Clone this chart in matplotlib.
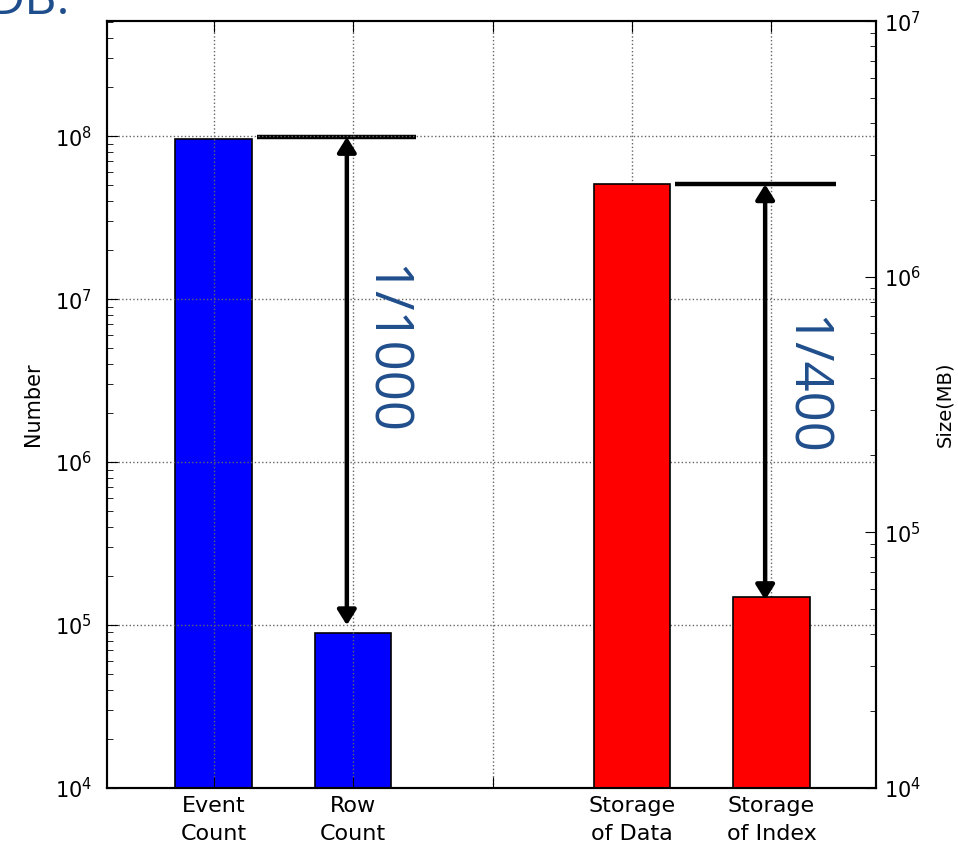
import matplotlib
matplotlib.use("Agg")
import matplotlib.pyplot as plt

# counts (left axis) and storage sizes in MB (right axis)
count_labels = ["Event\nCount", "Row\nCount"]
count_values = [9.6e7, 8.9e4]
size_labels = ["Storage\nof Data", "Storage\nof Index"]
size_values = [2.3e6, 5.6e4]
ratio_labels = ["1/1000", "1/400"]

count_pos = [0, 1]
size_pos = [3, 4]
width = 0.55
note_color = "#1f4e8c"
arrow_style = "<|-|>,head_length=0.45,head_width=0.28"

plt.rcParams["font.family"] = "DejaVu Sans"
plt.rcParams["font.size"] = 15

fig = plt.figure(figsize=(9.58, 8.46), dpi=100)
ax = fig.add_axes([0.1117, 0.0686, 0.8027, 0.9064])
ax2 = ax.twinx()

ax.bar(count_pos, count_values, width, color="#0000ff", edgecolor="black",
       linewidth=1.2, align="center")
ax2.bar(size_pos, size_values, width, color="#ff0000", edgecolor="black",
        linewidth=1.2, align="center")

ax.set_yscale("log")
ax2.set_yscale("log")
ax.set_ylim(1e4, 5.08e8)
ax2.set_ylim(1e4, 1e7)
ax.set_xlim(-0.765, 4.75)

ax.set_xticks([0, 1, 2, 3, 4])
ax.set_xticklabels(count_labels + [""] + size_labels, fontsize=16,
                   linespacing=1.5)

ax.set_axisbelow(False)
ax.grid(True, which="major", linestyle=":", color="#666666", linewidth=1.0)

for a in (ax, ax2):
    a.tick_params(which="both", direction="in", labelsize=15)
    a.tick_params(which="major", length=8)
    a.tick_params(which="minor", length=4)
    for s in a.spines.values():
        s.set_linewidth(1.5)
ax.tick_params(axis="x", top=True, pad=6, labelsize=16)
ax.tick_params(axis="y", pad=11)
ax2.tick_params(axis="y", pad=6)

ax.set_ylabel("Number", fontsize=15, labelpad=8)
ax2.set_ylabel("Size(MB)", fontsize=14, labelpad=10)

# ratio markers: level line at the big bar and an arrow down to the small one
ax.plot([0.31, 1.45], [count_values[0] * 1.03] * 2, color="black", lw=3.2,
        solid_capstyle="butt", clip_on=False)
ax.annotate("", xy=(0.955, count_values[1] * 1.12), xytext=(0.955, count_values[0] * 1.03),
            arrowprops=dict(arrowstyle=arrow_style, color="black", lw=3.2,
                            mutation_scale=20, shrinkA=0, shrinkB=0))
ax2.plot([3.31, 4.46], [size_values[0]] * 2, color="black", lw=3.2,
         solid_capstyle="butt")
ax2.annotate("", xy=(3.955, size_values[1] * 0.97), xytext=(3.955, size_values[0]),
             arrowprops=dict(arrowstyle=arrow_style, color="black", lw=3.2,
                             mutation_scale=20, shrinkA=0, shrinkB=0))

ax2.text(0.359, 0.571, ratio_labels[0], transform=ax.transAxes, rotation=-90,
         ha="center", va="center", fontsize=38, color=note_color,
         family="Open Sans")
ax2.text(0.906, 0.524, ratio_labels[1], transform=ax.transAxes, rotation=-90,
         ha="center", va="center", fontsize=38, color=note_color,
         family="Open Sans")

# slide caption clipped at the top edge
fig.text(0.073, 0.9835, "DB.", ha="right", va="baseline", fontsize=36,
         color=note_color, family="Open Sans")

fig.savefig("out.png", dpi=100)
